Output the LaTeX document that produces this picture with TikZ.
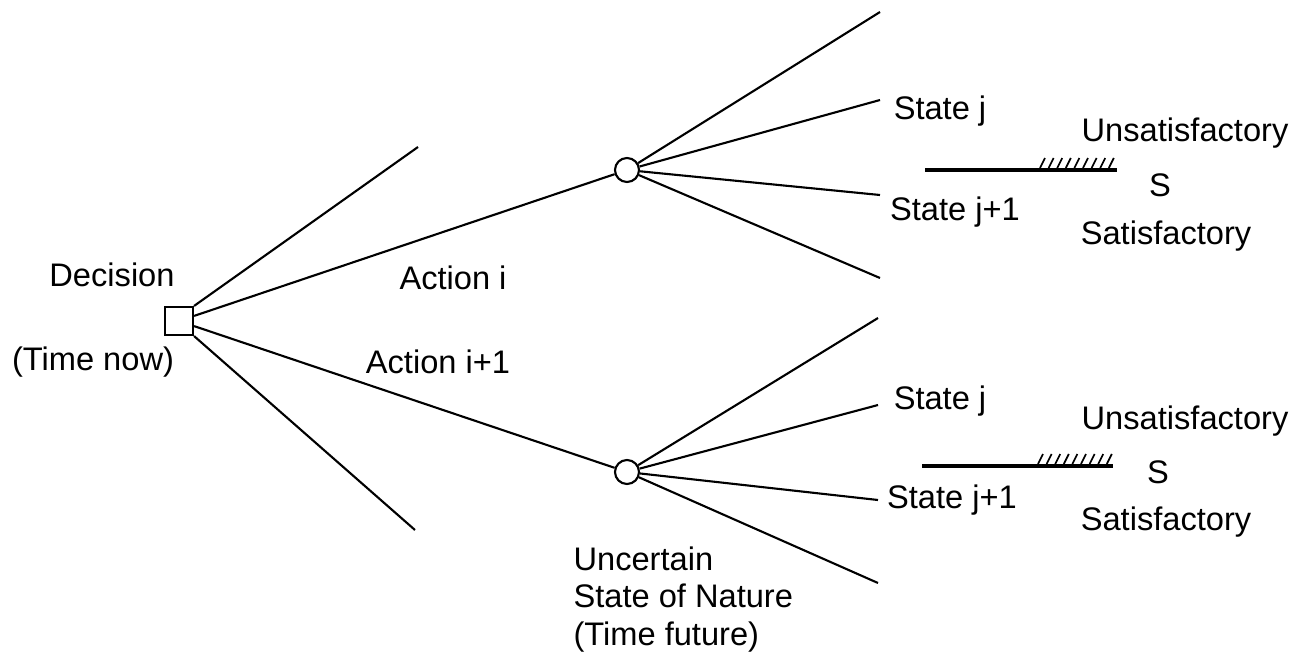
\documentclass[tikz,border=0pt]{standalone}
\usepackage{fontspec}
\setmainfont{Liberation Sans}
\usetikzlibrary{positioning}

\begin{document}
\begin{tikzpicture}[
  x=0.0125cm, y=-0.0125cm,
  every node/.style={font=\fontsize{11.6}{14}\selectfont, inner sep=0pt},
  branch/.style={draw=black, line width=0.75pt},
  decbox/.style={draw=black, line width=0.75pt, minimum size=0.35cm},
  chance/.style={draw=black, circle, line width=0.75pt, minimum size=0.3cm},
  limit/.style={draw=black, line width=1.3pt},
  hatch/.style={draw=black, line width=0.6pt},
]
  \useasboundingbox (0,0) rectangle (1299,652);

  % Decision and chance nodes
  \node[decbox] (dec) at (179,321) {};
  \node[chance] (ch1) at (627,170) {};
  \node[chance] (ch2) at (627,472) {};

  % Branch ends
  \coordinate (du) at (418,147);
  \coordinate (dl) at (415,530);
  \coordinate (a1) at (880,12);
  \coordinate (a2) at (880,100);
  \coordinate (a3) at (880,195);
  \coordinate (a4) at (880,278);
  \coordinate (b1) at (878,318);
  \coordinate (b2) at (878,405);
  \coordinate (b3) at (878,500);
  \coordinate (b4) at (878,583);

  % Actions
  \draw[branch] (dec.north east) -- (du);
  \draw[branch] (dec) -- (ch1);
  \draw[branch] (dec) -- (ch2);
  \draw[branch] (dec.south east) -- (dl);

  % States of nature
  \foreach \e in {a1,a2,a3,a4} \draw[branch] (ch1) -- (\e);
  \foreach \e in {b1,b2,b3,b4} \draw[branch] (ch2) -- (\e);

  % Labels
  \node (decl) at (112,275) {Decision};
  \node (nowl) at (93,362) {(Time now)};
  \node (act1) at (453,278) {Action i};
  \node (act2) at (438,362) {Action i+1};
  \node[align=left, anchor=north west, font=\fontsize{11.6}{13.4}\selectfont]
    (unc) at (573,546) {Uncertain\\State of Nature\\(Time future)};

  % Upper outcome
  \node (sj1) at (940,111) {State j};
  \node (sk1) at (955,212) {State j+1};
  \node (un1) at (1185,133) {Unsatisfactory};
  \node (s1) at (1160,185) {S};
  \node (sa1) at (1166,236) {Satisfactory};
  \coordinate (l1a) at (925,170);
  \coordinate (l1b) at (1117,170);
  \draw[limit] (l1a) -- (l1b);
  \foreach \i in {0,...,8}
    \draw[hatch] (1040+\i*8.6,168) -- ++(5,-10);

  % Lower outcome
  \node (sj2) at (940,401) {State j};
  \node (sk2) at (952,500) {State j+1};
  \node (un2) at (1185,421) {Unsatisfactory};
  \node (s2) at (1158,472) {S};
  \node (sa2) at (1166,522) {Satisfactory};
  \coordinate (l2a) at (922,466);
  \coordinate (l2b) at (1113,466);
  \draw[limit] (l2a) -- (l2b);
  \foreach \i in {0,...,8}
    \draw[hatch] (1038+\i*8.6,464) -- ++(5,-10);
\end{tikzpicture}
\end{document}
